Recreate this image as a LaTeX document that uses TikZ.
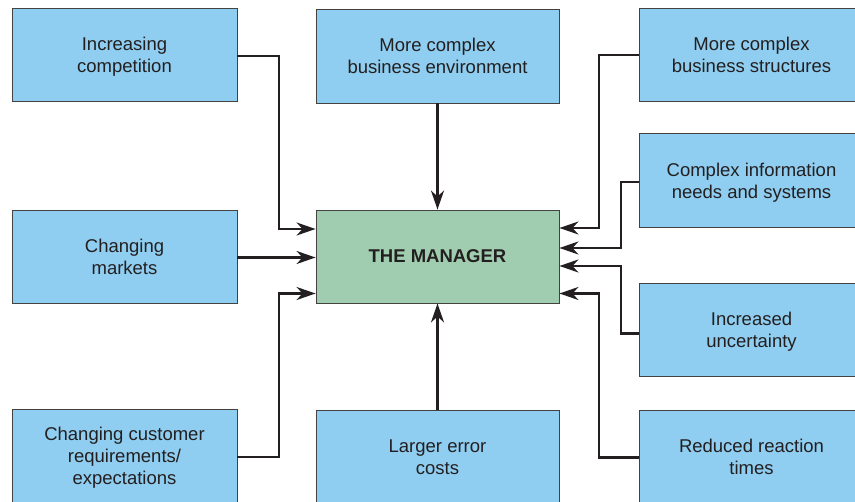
\documentclass[tikz,border=0pt]{standalone}
\usepackage{fontspec}
\setmainfont{Liberation Sans}
\usetikzlibrary{arrows.meta}
\definecolor{boxblue}{RGB}{143,206,240}
\definecolor{boxgreen}{RGB}{160,205,176}
\definecolor{inkgray}{RGB}{35,31,32}
\tikzset{
  factor/.style={draw=inkgray!85, line width=0.9pt, fill=boxblue, text=inkgray,
    minimum width=225pt, minimum height=93pt, inner sep=0pt, align=center,
    text depth=0pt, font=\fontsize{18.5pt}{22pt}\selectfont},
  centre/.style={factor, fill=boxgreen, minimum width=243pt,
    font=\fontsize{18.5pt}{22pt}\selectfont\bfseries},
  link/.style={draw=inkgray, line width=2.5pt,
    -{Stealth[length=19pt,width=13pt,inset=6pt]}}
}
\begin{document}
\begin{tikzpicture}[x=1pt,y=-1pt]
\useasboundingbox (0,0) rectangle (855,502);
\begin{scope}
\clip (0,0) rectangle (855,502);
% left column
\node[factor] (comp) at (124.5,55) {Increasing\\competition};
\node[factor] (mkt) at (124.5,257) {Changing\\markets};
\node[factor] (cust) at (124.5,455.5) {Changing customer\\requirements/\\expectations};
% centre column
\node[factor, minimum width=243pt, minimum height=94pt] (env) at (437.5,56) {More complex\\business environment};
\node[centre] (mgr) at (437.5,256.5) {THE MANAGER};
\node[factor, minimum width=243pt] (err) at (437.5,457) {Larger error\\costs};
% right column
\node[factor] (struct) at (751.5,55) {More complex\\business structures};
\node[factor, minimum height=94pt] (info) at (751.5,180.5) {Complex information\\needs and systems};
\node[factor] (unc) at (751.5,329.5) {Increased\\uncertainty};
\node[factor] (react) at (751.5,457) {Reduced reaction\\times};
\end{scope}
% connectors into the manager
\draw[link] (comp.east |- 0,56) -| (279,229) -- (mgr.west |- 0,229);
\draw[link] (mkt.east |- 0,257.5) -- (mgr.west |- 0,257.5);
\draw[link] (cust.east |- 0,457) -| (279,293.5) -- (mgr.west |- 0,293.5);
\draw[link] (env.south) -- (mgr.north);
\draw[link] (err.north) -- (mgr.south);
\draw[link] (struct.west |- 0,55) -| (599,228) -- (mgr.east |- 0,228);
\draw[link] (info.west |- 0,182) -| (621,248) -- (mgr.east |- 0,248);
\draw[link] (unc.west |- 0,333.5) -| (621,266) -- (mgr.east |- 0,266);
\draw[link] (react.west |- 0,457.5) -| (599,293.5) -- (mgr.east |- 0,293.5);
\end{tikzpicture}
\end{document}
